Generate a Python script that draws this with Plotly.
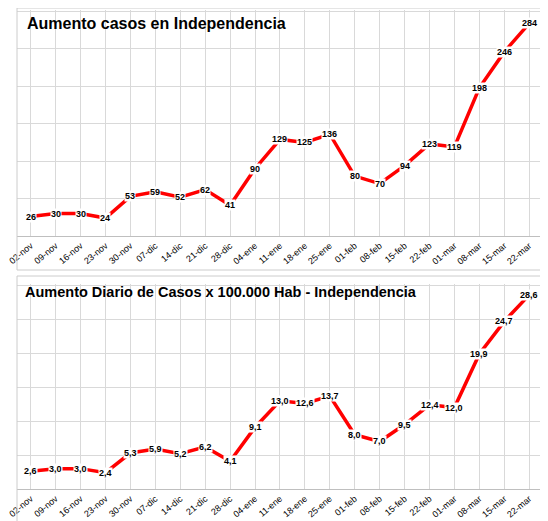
import plotly.graph_objects as go

cats = ["02-nov","09-nov","16-nov","23-nov","30-nov","07-dic","14-dic","21-dic","28-dic","04-ene",
        "11-ene","18-ene","25-ene","01-feb","08-feb","15-feb","22-feb","01-mar","08-mar","15-mar","22-mar"]
casos = [26,30,30,24,53,59,52,62,41,90,129,125,136,80,70,94,123,119,198,246,284]
tasa = [2.6,3.0,3.0,2.4,5.3,5.9,5.2,6.2,4.1,9.1,13.0,12.6,13.7,8.0,7.0,9.5,12.4,12.0,19.9,24.7,28.6]

fig = go.Figure()
fig.add_trace(go.Scatter(x=cats, y=casos, mode="lines", line=dict(color="#ff0000", width=3.5),
                         xaxis="x", yaxis="y", showlegend=False))
fig.add_trace(go.Scatter(x=cats, y=tasa, mode="lines", line=dict(color="#ff0000", width=3.5),
                         xaxis="x2", yaxis="y2", showlegend=False))

ann = []
for c, v in zip(cats, casos):
    ann.append(dict(x=c, y=v, xref="x", yref="y", text=f"<b>{v}</b>", showarrow=False,
                    bgcolor="white", font=dict(size=9, color="black", family="Liberation Sans"), borderpad=0))
for c, v in zip(cats, tasa):
    ann.append(dict(x=c, y=v, xref="x2", yref="y2", text="<b>" + f"{v:.1f}".replace(".", ",") + "</b>",
                    showarrow=False, bgcolor="white",
                    font=dict(size=9, color="black", family="Liberation Sans"), borderpad=0))
ann.append(dict(x=8/548, y=1-16/521, xref="paper", yref="paper", xanchor="left", yanchor="middle",
                text="<b>Aumento casos en Independencia</b>", showarrow=False,
                font=dict(size=16, color="black", family="Liberation Sans")))
ann.append(dict(x=6/548, y=1-284/521, xref="paper", yref="paper", xanchor="left", yanchor="middle",
                text="<b>Aumento Diario de Casos x 100.000 Hab - Independencia</b>", showarrow=False,
                font=dict(size=14.5, color="black", family="Liberation Sans")))

xcommon = dict(showgrid=True, gridcolor="#d9d9d9", tickangle=-40, tickfont=dict(size=9, family="Liberation Sans", color="black"),
               showline=True, linecolor="#bfbfbf", ticks="", range=[-0.55, 20.75])
ycommon = dict(showgrid=True, gridcolor="#d9d9d9", showticklabels=False, zeroline=False,
               showline=False)

fig.update_layout(
    width=548, height=521, margin=dict(l=0, r=0, t=0, b=0),
    plot_bgcolor="white", paper_bgcolor="white",
    xaxis=dict(domain=[0.0, 0.985], anchor="y", **xcommon),
    yaxis=dict(domain=[1-228/521, 1-2/521], range=[0, 302], dtick=50, **ycommon),
    xaxis2=dict(domain=[0.0, 0.985], anchor="y2", **xcommon),
    yaxis2=dict(domain=[1-481/521, 1-276/521], range=[0, 30.2], dtick=5, **ycommon),
    annotations=ann,
    shapes=[
        dict(type="rect", xref="paper", yref="paper", x0=0, x1=0.995, y0=1-262/521, y1=1, line=dict(color="#cccccc", width=1)),
        dict(type="rect", xref="paper", yref="paper", x0=0, x1=0.995, y0=0, y1=1-268/521, line=dict(color="#cccccc", width=1)),
    ],
)
fig.write_html("out.html")
